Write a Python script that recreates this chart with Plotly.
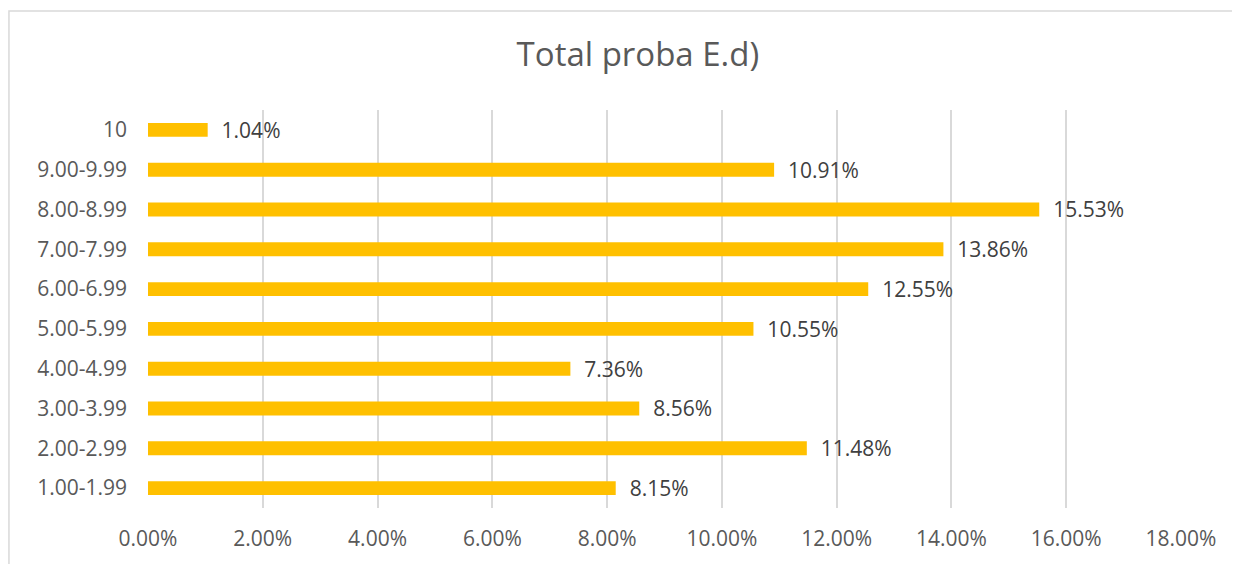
import plotly.graph_objects as go

categories = ["1.00-1.99", "2.00-2.99", "3.00-3.99", "4.00-4.99", "5.00-5.99",
              "6.00-6.99", "7.00-7.99", "8.00-8.99", "9.00-9.99", "10"]
values = [8.15, 11.48, 8.56, 7.36, 10.55, 12.55, 13.86, 15.53, 10.91, 1.04]
tick_vals = [0, 2, 4, 6, 8, 10, 12, 14, 16, 18]
tick_text = [f"{v:.2f}%" for v in tick_vals]
title_text = "Total proba E.d)"

FONT = "Open Sans, Liberation Sans, Arial, sans-serif"
GRAY = "#595959"

fig = go.Figure()
fig.add_trace(go.Bar(
    y=categories, x=values, orientation="h",
    marker=dict(color="#FFC000", line=dict(width=0)),
    text=[f"{v:.2f}%" for v in values],
    texttemplate="  %{text}",
    textposition="outside",
    constraintext="none",
    textfont=dict(family=FONT, size=21, color="#404040"),
    cliponaxis=False,
    hoverinfo="skip",
))

fig.update_layout(
    width=1240, height=564,
    margin=dict(l=140, r=67, t=102, b=64),
    paper_bgcolor="white", plot_bgcolor="white",
    bargap=0.65,
    showlegend=False,
    title=dict(text=title_text, x=0.508, xanchor="center", y=0.917, yanchor="middle",
               font=dict(family=FONT, size=33, color=GRAY)),
    xaxis=dict(range=[0, 18], tickvals=tick_vals, ticktext=tick_text,
               showgrid=True, gridcolor="#D9D9D9", gridwidth=1.5,
               zeroline=False, showline=False, automargin=False,
               tickfont=dict(family=FONT, size=21, color=GRAY),
               ticklabelstandoff=16, fixedrange=True),
    yaxis=dict(showgrid=False, zeroline=False, showline=False, automargin=False,
               tickfont=dict(family=FONT, size=21, color=GRAY),
               ticklabelstandoff=20, fixedrange=True),
    shapes=[dict(type="rect", xref="paper", yref="paper",
                 x0=-0.1346, x1=1.062, y0=-0.16, y1=1.2487,
                 line=dict(color="#D9D9D9", width=1.5), fillcolor="rgba(0,0,0,0)",
                 layer="below")],
    font=dict(family=FONT),
)

fig.write_html("out.html")
